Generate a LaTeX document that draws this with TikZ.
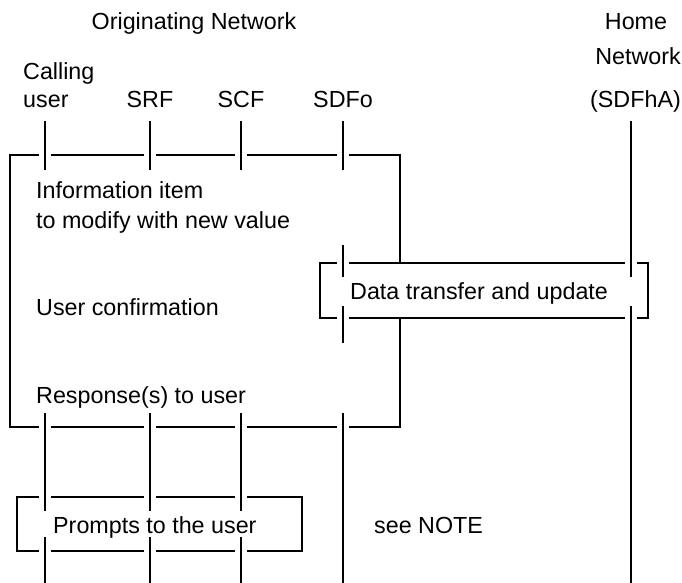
\documentclass[tikz,border=0pt]{standalone}
\usepackage{fontspec}
\setmainfont{Liberation Sans}
\begin{document}
\begin{tikzpicture}[x=1pt,y=-1pt,
  txt/.style={font=\fontsize{23.3}{28}\selectfont, inner sep=0pt, anchor=base west},
  frame/.style={line width=1.4pt},
  life/.style={line width=2.6pt},
  lifethin/.style={line width=1.7pt},
  gap/.style={draw=white, line width=4pt}]
\useasboundingbox (0,0) rectangle (682,583);

% headings
\node[txt, anchor=base] (orig) at (194,30) {Originating Network};
\node[txt, anchor=base] (home1) at (636,30) {Home};
\node[txt, anchor=base east] (home2) at (681,65) {Network};
\node[txt] (calling) at (23,80) {Calling};
\node[txt] (user) at (23,108) {user};
\node[txt, anchor=base] (srf) at (150,108) {SRF};
\node[txt, anchor=base] (scf) at (241,108) {SCF};
\node[txt, anchor=base] (sdfo) at (343,108) {SDFo};
\node[txt, anchor=base east] (sdfh) at (681,108) {(SDFhA)};

% frame corners
\coordinate (bigNW) at (10,155);   \coordinate (bigSE) at (400,427);
\coordinate (dataNW) at (320,263); \coordinate (dataSE) at (648,318);
\coordinate (prNW) at (17,497);    \coordinate (prSE) at (302,551);

% frames
\draw[frame] (bigNW) rectangle (bigSE);
\filldraw[frame, fill=white] (dataNW) rectangle (dataSE);
\draw[frame] (prNW) rectangle (prSE);

% openings in the frame edges where the lifelines pass
\foreach \x in {45,150,241,343} {
  \draw[gap] (\x-6,155) -- (\x+6,155);
  \draw[gap] (\x-6,427) -- (\x+6,427);
}
\foreach \x in {343,631} {
  \draw[gap] (\x-6,263) -- (\x+6,263);
  \draw[gap] (\x-6,318) -- (\x+6,318);
}
\foreach \x in {45,150,241} {
  \draw[gap] (\x-6,497) -- (\x+6,497);
  \draw[gap] (\x-6,551) -- (\x+6,551);
}

% lifelines
\foreach \n/\x in {u/45,r/150,c/241} {
  \coordinate (\n0) at (\x,121); \coordinate (\n1) at (\x,170);
  \coordinate (\n2) at (\x,413); \coordinate (\n3) at (\x,511);
  \coordinate (\n4) at (\x,537); \coordinate (\n5) at (\x,583);
  \draw[life] (\n0) -- (\n1);
  \draw[life] (\n2) -- (\n3);
  \draw[life] (\n4) -- (\n5);
}
\coordinate (o0) at (343,121); \coordinate (o1) at (343,170);
\coordinate (o2) at (343,245); \coordinate (o3) at (343,277);
\coordinate (o4) at (343,306); \coordinate (o5) at (343,343);
\coordinate (o6) at (343,413); \coordinate (o7) at (343,583);
\draw[lifethin] (o0) -- (o1);
\draw[lifethin] (o2) -- (o3);
\draw[lifethin] (o4) -- (o5);
\draw[lifethin] (o6) -- (o7);
\coordinate (h0) at (631,121); \coordinate (h1) at (631,277);
\coordinate (h2) at (631,306); \coordinate (h3) at (631,583);
\draw[life] (h0) -- (h1);
\draw[life] (h2) -- (h3);

% messages
\node[txt] (info1) at (36,198) {Information item};
\node[txt] (info2) at (36,228) {to modify with new value};
\node[txt] (conf) at (36,315) {User confirmation};
\node[txt] (resp) at (36,403) {Response(s) to user};
\node[txt] (data) at (350,299) {Data transfer and update};
\node[txt] (prompt) at (53,533) {Prompts to the user};
\node[txt] (note) at (374,533) {see NOTE};
\end{tikzpicture}
\end{document}
